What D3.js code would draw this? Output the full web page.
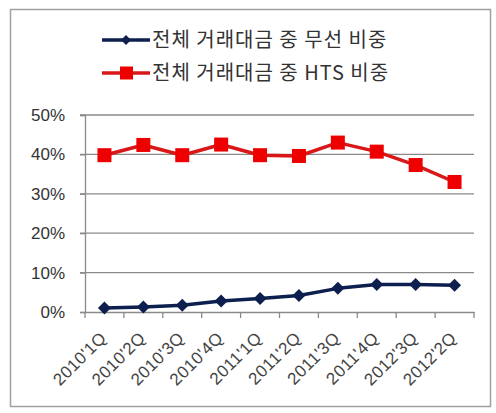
<!DOCTYPE html>
<html>
<head>
<meta charset="utf-8">
<script src="https://cdn.jsdelivr.net/npm/d3@7"></script>
<style>
  html, body { margin: 0; padding: 0; background: #fff; }
  svg { display: block; }
</style>
</head>
<body>
<svg id="chart" width="496" height="413"></svg>
<script>
// Quarterly categories (labels kept as printed)
const quarters = ["2010'1Q", "2010'2Q", "2010'3Q", "2010'4Q", "2011'1Q",
                  "2011'2Q", "2011'3Q", "2011'4Q", "2012'3Q", "2012'2Q"];
// Share of wireless trading in total trading value (%)
const wirelessShare = [1.0, 1.3, 1.7, 2.8, 3.4, 4.2, 6.0, 7.0, 7.0, 6.8];
// Share of HTS trading in total trading value (%)
const htsShare = [39.8, 42.4, 39.8, 42.5, 39.8, 39.6, 43.0, 40.7, 37.3, 33.0];
const yTicks = [0, 10, 20, 30, 40, 50];
const seriesNames = ["전체 거래대금 중 무선 비중", "전체 거래대금 중 HTS 비중"];

const FONT = "'Liberation Sans', Arial, 'Noto Sans CJK KR', sans-serif";
const NAVY = "#0d1f4f", RED_LINE = "#d81818", RED_MARK = "#ee0000", GRID = "#8a8a8a";
const svg = d3.select("#chart");

// outer frame
svg.append("rect")
  .attr("x", 10.5).attr("y", 9.5).attr("width", 480).attr("height", 397)
  .attr("fill", "#fff").attr("stroke", "#a0a0a0").attr("stroke-width", 1.5);

const plot = { left: 85, right: 474, top: 115, bottom: 312 };

const x = d3.scaleBand().domain(quarters).range([plot.left, plot.right]);
const y = d3.scaleLinear().domain([0, 50]).range([plot.bottom, plot.top]);
const cx = d => x(d) + x.bandwidth() / 2;

// horizontal gridlines
svg.append("g").selectAll("line").data(yTicks.filter(t => t > 0)).join("line")
  .attr("x1", plot.left - 5).attr("x2", plot.right)
  .attr("y1", d => y(d)).attr("y2", d => y(d))
  .attr("stroke", GRID).attr("stroke-width", 1.3);

// y axis
const yAxis = svg.append("g")
  .attr("transform", `translate(${plot.left},0)`)
  .call(d3.axisLeft(y).tickValues(yTicks).tickFormat(d => d + "%").tickSize(5).tickPadding(15));
yAxis.select(".domain").attr("stroke", GRID).attr("stroke-width", 1.3);
yAxis.selectAll(".tick line").attr("stroke", GRID).attr("stroke-width", 1.3);
yAxis.selectAll("text")
  .attr("font-family", FONT).attr("font-size", 17).attr("fill", "#333");

// x axis baseline
const xAxis = svg.append("g")
  .attr("transform", `translate(0,${plot.bottom})`)
  .call(d3.axisBottom(x).tickSize(0).tickFormat(""));
xAxis.select(".domain").attr("stroke", GRID).attr("stroke-width", 1.3);
xAxis.selectAll(".tick").remove();
// category boundary ticks
const bounds = quarters.map(q => x(q)).concat([plot.right]);
svg.append("g").selectAll("line").data(bounds).join("line")
  .attr("x1", d => d).attr("x2", d => d)
  .attr("y1", plot.bottom).attr("y2", plot.bottom + 6)
  .attr("stroke", GRID).attr("stroke-width", 1.3);

// rotated category labels
svg.append("g").selectAll("text").data(quarters).join("text")
  .attr("transform", d => `translate(${cx(d) + 3},${plot.bottom + 27}) rotate(-45)`)
  .attr("text-anchor", "end")
  .attr("font-family", FONT).attr("font-size", 17).attr("letter-spacing", 0.5)
  .attr("fill", "#444")
  .text(d => d);

const line = d3.line().x((d, i) => cx(quarters[i])).y(d => y(d));
// diamond marker: a square turned by 45 degrees
const diamondPath = r => `M0,${-r}L${r},0L0,${r}L${-r},0Z`;

// HTS share series
svg.append("path").datum(htsShare)
  .attr("d", line).attr("fill", "none")
  .attr("stroke", RED_LINE).attr("stroke-width", 3.5).attr("stroke-linejoin", "round");
svg.append("g").selectAll("rect").data(htsShare).join("rect")
  .attr("x", (d, i) => cx(quarters[i]) - 7).attr("y", d => y(d) - 7)
  .attr("width", 14).attr("height", 14).attr("fill", RED_MARK);

// wireless share series
svg.append("path").datum(wirelessShare)
  .attr("d", line).attr("fill", "none")
  .attr("stroke", NAVY).attr("stroke-width", 3.5).attr("stroke-linejoin", "round");
svg.append("g").selectAll("path").data(wirelessShare).join("path")
  .attr("d", diamondPath(6.5))
  .attr("transform", (d, i) => `translate(${cx(quarters[i])},${y(d)})`)
  .attr("fill", NAVY);

// legend
const legend = svg.append("g");
const legendRows = [
  { name: seriesNames[0], color: NAVY, marker: "diamond", yy: 40 },
  { name: seriesNames[1], color: RED_LINE, marker: "square", yy: 73 }
];
legendRows.forEach(r => {
  legend.append("line")
    .attr("x1", 102).attr("x2", 150).attr("y1", r.yy).attr("y2", r.yy)
    .attr("stroke", r.color).attr("stroke-width", 3.5);
  if (r.marker === "diamond") {
    legend.append("path").attr("d", diamondPath(5))
      .attr("transform", `translate(126,${r.yy})`).attr("fill", r.color);
  } else {
    legend.append("rect").attr("x", 120).attr("y", r.yy - 6.5)
      .attr("width", 13).attr("height", 13).attr("fill", RED_MARK);
  }
  legend.append("text")
    .attr("x", 152).attr("y", r.yy).attr("dy", "0.36em")
    .attr("font-family", "'Noto Sans CJK KR', sans-serif").attr("font-size", 20)
    .attr("letter-spacing", 1)
    .attr("fill", "#333").text(r.name);
});
</script>
</body>
</html>
